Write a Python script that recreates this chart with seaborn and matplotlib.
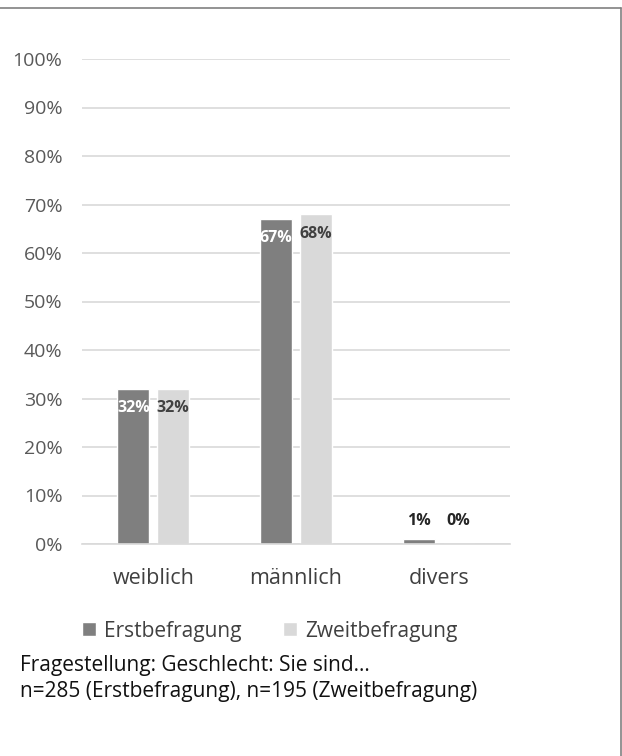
import pandas as pd
import matplotlib.pyplot as plt
import seaborn as sns
from matplotlib.lines import Line2D

categories = ['weiblich', 'männlich', 'divers']
erst = [0.32, 0.67, 0.01]
zweit = [0.32, 0.68, 0.00]
series = ['Erstbefragung', 'Zweitbefragung']
yticks = [0, 0.1, 0.2, 0.3, 0.4, 0.5, 0.6, 0.7, 0.8, 0.9, 1.0]

df = pd.DataFrame({
    'Geschlecht': categories * 2,
    'Anteil': erst + zweit,
    'Befragung': [series[0]] * 3 + [series[1]] * 3,
})

sns.set_style('white')
plt.rcParams['font.family'] = ['Open Sans', 'DejaVu Sans']

fig = plt.figure(figsize=(6.22, 7.56), dpi=100)
ax = fig.add_axes([82 / 622, 1 - 544 / 756, 428 / 622, 485 / 756])

sns.barplot(df, x='Geschlecht', y='Anteil', hue='Befragung',
            palette=['#7f7f7f', '#d9d9d9'], width=0.56, gap=0.2,
            saturation=1, ax=ax, legend=True)

ax.set_ylim(0, 1)
ax.set_xlim(-0.5, 2.5)
ax.set_yticks(yticks)
ax.set_yticklabels([f'{int(round(t * 100))}%' for t in yticks])
ax.yaxis.grid(True, color='#d9d9d9', lw=1.2)
ax.set_axisbelow(True)
for s in ['top', 'right', 'left']:
    ax.spines[s].set_visible(False)
ax.spines['bottom'].set_color('#d9d9d9')
ax.spines['bottom'].set_linewidth(1.2)
ax.tick_params(axis='y', length=0, pad=14, labelsize=14, labelcolor='#595959')
ax.tick_params(axis='x', length=0, pad=17, labelsize=15.5, labelcolor='#404040')
ax.set_xlabel(None)
ax.set_ylabel(None)

# data labels
label_colors = ['white', '#404040']
group_max = [max(a, b) for a, b in zip(erst, zweit)]
for cont, col in zip(ax.containers, label_colors):
    for i, bar in enumerate(cont):
        h = bar.get_height()
        x = bar.get_x() + bar.get_width() / 2
        if h >= 0.1:
            ax.annotate(f'{round(h * 100):.0f}%', (x, h), xytext=(0, -14),
                        textcoords='offset points', ha='center', va='center',
                        fontsize=11.5, fontweight='bold', color=col)
        else:
            ax.annotate(f'{round(h * 100):.0f}%', (x, group_max[i]), xytext=(0, 13),
                        textcoords='offset points', ha='center', va='center',
                        fontsize=11.5, fontweight='bold', color='#262626')

handles, labels = ax.get_legend_handles_labels()
ax.get_legend().remove()
fig.legend(handles, labels, loc='center', bbox_to_anchor=(270 / 622, 1 - 631 / 756),
           ncol=2, frameon=False, fontsize=15, labelcolor='#404040',
           handlelength=0.65, handleheight=0.65, handletextpad=0.4, columnspacing=2.0)

fig.text(20 / 622, 1 - 665 / 756, 'Fragestellung: Geschlecht: Sie sind...',
         fontsize=15, va='center', color='#111111')
fig.text(20 / 622, 1 - 691 / 756, 'n=285 (Erstbefragung), n=195 (Zweitbefragung)',
         fontsize=15, va='center', color='#111111')

# frame lines
fig.add_artist(Line2D([0, 620.5 / 622], [1 - 7.5 / 756] * 2, color='#808080', lw=1.2,
                      transform=fig.transFigure))
fig.add_artist(Line2D([620.5 / 622] * 2, [0, 1 - 7.5 / 756], color='#808080', lw=1.2,
                      transform=fig.transFigure))

plt.savefig('out.png', dpi=100)
